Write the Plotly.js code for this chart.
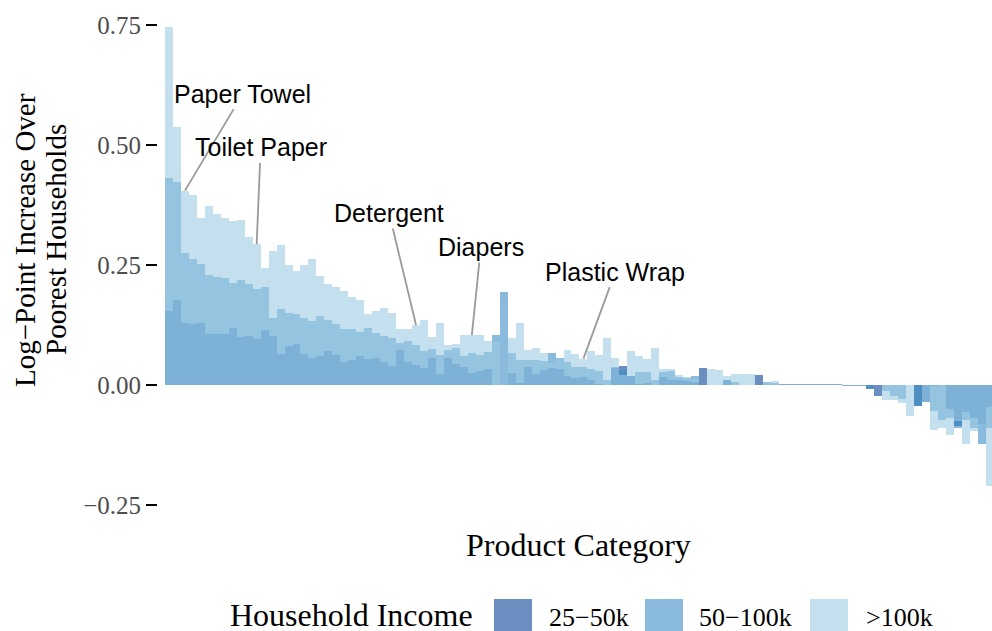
<!DOCTYPE html>
<html>
<head>
<meta charset="utf-8">
<script src="https://cdn.plot.ly/plotly-3.0.1.min.js"></script>
<style>html,body{margin:0;padding:0;background:#fff;}#chart{width:992px;height:631px;}</style>
</head>
<body>
<div id="chart"></div>
<script>
// ---- data ----
const seriesNames = ["25\u221250k", "50\u2212100k", ">100k"];

const inc25to50 = [
  0.154,0.177,0.129,0.128,0.129,0.106,0.106,0.106,0.119,0.101,
  0.103,0.096,0.115,0.103,0.065,0.081,0.086,0.065,0.057,0.060,
  0.071,0.063,0.047,0.053,0.060,0.055,0.056,0.047,0.040,0.073,
  0.047,0.041,0.036,0.056,0.023,0.056,0.044,0.038,0.024,0.029,
  0.034,0.000,0.000,0.024,0.005,0.038,0.023,0.031,0.036,0.033,
  0.019,0.015,0.017,0.010,0.003,0.000,0.035,0.040,0.019,0.003,
  0.005,0.000,0.017,0.010,0.010,0.008,0.006,0.035,0.000,0.000,
  0.010,0.000,0.000,0.000,0.021,0.000,0.000,0.002,0.002,0.002,
  0.002,0.002,0.002,0.002,0.002,-0.002,-0.002,-0.002,-0.008,-0.023,
  0.000,0.000,0.000,0.000,-0.044,-0.035,-0.002,0.000,-0.050,-0.085,
  -0.056,-0.069,-0.081,-0.046
];

const inc50to100 = [
  0.431,0.422,0.276,0.263,0.252,0.229,0.225,0.222,0.213,0.219,
  0.210,0.199,0.204,0.140,0.158,0.151,0.148,0.140,0.134,0.144,
  0.136,0.128,0.116,0.116,0.110,0.118,0.108,0.102,0.097,0.087,
  0.091,0.083,0.071,0.075,0.063,0.073,0.077,0.060,0.066,0.063,
  0.069,0.104,0.194,0.066,0.052,0.052,0.052,0.050,0.067,0.056,
  0.047,0.038,0.037,0.033,0.030,0.010,0.038,0.031,0.019,0.027,
  0.027,0.010,0.027,0.029,0.017,0.014,0.019,0.000,0.000,0.000,
  0.010,0.006,0.000,0.000,0.000,0.006,0.004,0.002,0.002,0.002,
  0.002,0.002,0.002,0.002,0.002,-0.002,-0.002,-0.002,-0.006,0.000,
  -0.013,-0.023,-0.029,0.000,-0.044,-0.035,-0.054,-0.073,-0.069,-0.090,
  -0.073,-0.090,-0.123,-0.090
];

const incOver100 = [
  0.745,0.537,0.405,0.396,0.348,0.373,0.357,0.347,0.342,0.344,
  0.308,0.293,0.244,0.280,0.292,0.251,0.238,0.251,0.263,0.228,
  0.210,0.204,0.196,0.183,0.177,0.148,0.155,0.160,0.149,0.117,
  0.117,0.125,0.135,0.099,0.130,0.083,0.085,0.104,0.104,0.104,
  0.092,0.090,0.000,0.098,0.130,0.073,0.077,0.066,0.045,0.056,
  0.073,0.065,0.055,0.071,0.063,0.098,0.056,0.021,0.071,0.060,
  0.054,0.077,0.033,0.033,0.021,0.017,0.013,0.000,0.033,0.031,
  0.019,0.023,0.023,0.023,0.000,0.006,0.008,0.002,0.002,0.002,
  0.002,0.002,0.002,0.002,0.002,-0.002,-0.002,-0.002,0.000,0.000,
  -0.031,-0.031,-0.037,-0.065,0.000,-0.035,-0.094,-0.090,-0.104,-0.075,
  -0.123,-0.096,-0.081,-0.210
];

// product categories (ordered, unnamed in the chart)
const categories = inc25to50.map((_, i) => i);

// labelled categories
const labelNames = ["Paper Towel", "Toilet Paper", "Detergent", "Diapers", "Plastic Wrap"];
const labelIndex = [2, 11, 31, 38, 52];
const labelOffsetX = [58, 4, -27, 9, 32];
const labelOffsetY = [-97, -97, -112, -88, -87];

const yTicks = [-0.25, 0, 0.25, 0.5, 0.75];

// ---- styling ----
const baseColors = ["rgba(7,67,148,0.6)", "rgba(60,142,197,0.6)", "rgba(157,202,227,0.6)"];
const serif = "Liberation Serif, Times New Roman, serif";
const sans = "Liberation Sans, Arial, sans-serif";

const W = 992, H = 631;
const ML = 158, MR = 0, MT = 5, MB = 121;
const plotW = W - ML - MR, plotH = H - MT - MB;
const px2x = p => (p - ML) / plotW;
const py2y = p => (H - MB - p) / plotH;

const values = [inc25to50, inc50to100, incOver100];
const traces = values.map((v, k) => ({
  type: "bar",
  x: categories,
  y: v,
  width: 1,
  name: seriesNames[k],
  marker: {color: baseColors[k], line: {width: 0}},
  showlegend: false,
  hoverinfo: "skip"
}));

const annotations = [];
labelNames.forEach((t, i) => {
  annotations.push({
    x: labelIndex[i], y: incOver100[labelIndex[i]], xref: "x", yref: "y",
    text: t, showarrow: true, arrowhead: 0, arrowwidth: 1.8, arrowcolor: "#9a9a9a",
    ax: labelOffsetX[i], ay: labelOffsetY[i], standoff: 0,
    font: {family: sans, size: 25, color: "#000"}
  });
});

// axis titles
annotations.push({xref: "paper", yref: "paper", x: px2x(25), y: py2y(240), text: "Log\u2212Point Increase Over",
  textangle: -90, showarrow: false, xanchor: "center", yanchor: "middle", font: {family: serif, size: 29, color: "#000"}});
annotations.push({xref: "paper", yref: "paper", x: px2x(56), y: py2y(240), text: "Poorest Households",
  textangle: -90, showarrow: false, xanchor: "center", yanchor: "middle", font: {family: serif, size: 29, color: "#000"}});
annotations.push({xref: "paper", yref: "paper", x: px2x(578.5), y: py2y(545), text: "Product Category",
  showarrow: false, xanchor: "center", yanchor: "middle", font: {family: serif, size: 32, color: "#000"}});

// legend (drawn manually to match large keys)
annotations.push({xref: "paper", yref: "paper", x: px2x(228), y: py2y(615), text: "Household Income",
  showarrow: false, xanchor: "left", yanchor: "middle", font: {family: serif, size: 32, color: "#000"}});
const keyLeft = [494, 645, 810];
const labelLeft = [547, 697, 864];
const shapes = [];
for (let k = 0; k < 3; k++) {
  shapes.push({type: "rect", xref: "paper", yref: "paper",
    x0: px2x(keyLeft[k]), x1: px2x(keyLeft[k] + 38), y0: py2y(599), y1: py2y(637),
    fillcolor: baseColors[k], line: {width: 0}});
  annotations.push({xref: "paper", yref: "paper", x: px2x(labelLeft[k]), y: py2y(617), text: seriesNames[k],
    showarrow: false, xanchor: "left", yanchor: "middle", font: {family: serif, size: 26, color: "#000"}});
}

const pxPerUnit = 7.97;
const x0 = -0.5 - (165 - ML) / pxPerUnit;
const x1 = x0 + plotW / pxPerUnit;
const y1 = 0.75 + (25 - MT) / 480;
const y0 = y1 - plotH / 480;

const layout = {
  width: W, height: H,
  margin: {l: ML, r: MR, t: MT, b: MB, pad: 0},
  paper_bgcolor: "#fff", plot_bgcolor: "#fff",
  barmode: "overlay",
  bargap: 0,
  showlegend: false,
  xaxis: {range: [x0, x1], showgrid: false, zeroline: false, showline: false, showticklabels: false, ticks: ""},
  yaxis: {range: [y0, y1], showgrid: false, zeroline: false, showline: false,
    tickvals: yTicks, tickformat: ".2f", ticks: "outside", ticklen: 11, tickwidth: 2.5, tickcolor: "#000",
    tickfont: {family: serif, size: 25, color: "#4d4d4d"}},
  annotations: annotations,
  shapes: shapes
};

Plotly.newPlot("chart", traces, layout, {staticPlot: true, displayModeBar: false});
</script>
</body>
</html>
